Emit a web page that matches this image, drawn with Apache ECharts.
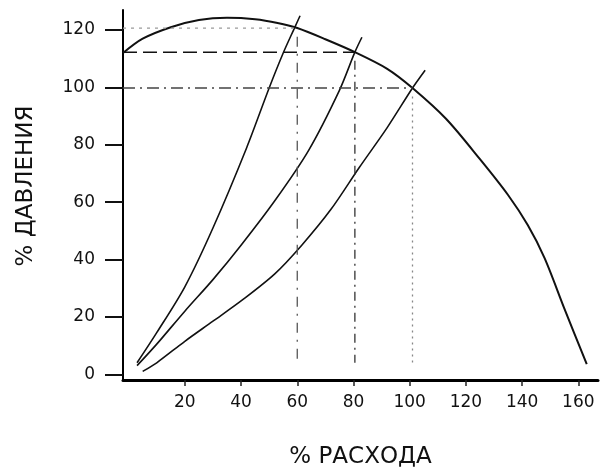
<!DOCTYPE html>
<html>
<head>
<meta charset="utf-8">
<script src="https://cdn.jsdelivr.net/npm/echarts@6/dist/echarts.min.js"></script>
<style>
  html, body { margin: 0; padding: 0; background: #fff; }
  #chart { width: 602px; height: 467px; }
</style>
</head>
<body>
<div id="chart"></div>
<script>
// характеристика насоса (% расхода -> % давления)
const pumpFlow = [-2, 5, 15, 25, 35, 45, 53, 60, 70, 80.5, 92, 101, 113, 125, 135, 142, 148, 155, 163]
const pumpHead = [112, 117, 121, 123.5, 124.3, 123.8, 122.5, 120.7, 116.8, 112.3, 106.5, 99.8, 89, 75, 62.5, 52, 40.5, 23, 3.5]

// характеристики сети
const sys1Flow = [3, 10, 20, 30, 42, 50, 55, 59, 61]
const sys1Head = [4, 14.5, 30.5, 51, 79, 99.8, 112, 120.7, 125]
const sys2Flow = [3, 10, 20, 30, 40, 52, 64, 75, 80.5, 83]
const sys2Head = [3, 10.5, 22, 33, 45, 60.5, 78, 99, 112.3, 117.5]
const sys3Flow = [5, 10, 20, 30, 40.6, 52, 61.6, 72, 82, 92, 101, 105.5]
const sys3Head = [1, 4, 11.5, 18.5, 26, 35, 45, 57.5, 72, 86, 99.8, 106]

// рабочие точки
const refFlow = [60, 80.5, 101]
const refHead = [120.7, 112.3, 99.8]

const xTicks = [20, 40, 60, 80, 100, 120, 140, 160]
const yTicks = [0, 20, 40, 60, 80, 100, 120]

const X_MIN = -2
const zip = (a, b) => a.map((v, i) => [v, b[i]])

const curve = (data, width) => ({
  type: 'line',
  data: data,
  symbol: 'none',
  smooth: 0.3,
  silent: true,
  lineStyle: { color: '#111', width: width }
})

const refLine = (data, color, dash, width) => ({
  type: 'line',
  data: data,
  symbol: 'none',
  silent: true,
  lineStyle: { color: color, width: width || 1.2, type: dash }
})

const hStyles = [['#9a9a9a', [3, 5], 1.2], ['#111', [14, 6], 1.5], ['#444', [12, 5, 2, 5], 1.3]]
const vStyles = [['#555', [10, 7, 2, 7], 1.3], ['#333', [9, 5, 2, 5], 1.3], ['#888', [2, 4], 1.3]]

const refSeries = []
refFlow.forEach((f, i) => {
  refSeries.push(refLine([[X_MIN, refHead[i]], [f, refHead[i]]], hStyles[i][0], hStyles[i][1], hStyles[i][2]))
  refSeries.push(refLine([[f, refHead[i] - 3], [f, 4]], vStyles[i][0], vStyles[i][1], vStyles[i][2]))
})

const chart = echarts.init(document.getElementById('chart'))

const labelFont = {
  color: '#111',
  fontSize: 17,
  fontFamily: 'DejaVu Sans'
}

chart.setOption({
  animation: false,
  backgroundColor: '#fff',
  grid: { left: 123, right: 4, top: 10, bottom: 87, containLabel: false, outerBoundsMode: 'none' },
  xAxis: {
    type: 'value',
    min: X_MIN,
    max: 167,
    name: '% РАСХОДА',
    nameLocation: 'middle',
    nameGap: 66,
    nameTextStyle: { color: '#111', fontSize: 23, fontFamily: 'DejaVu Sans' },
    axisLine: { show: true, onZero: false, lineStyle: { color: '#000', width: 3 } },
    axisTick: { show: true, length: 6, customValues: xTicks, lineStyle: { color: '#222', width: 1.5 } },
    axisLabel: Object.assign({ margin: 14, customValues: xTicks }, labelFont),
    splitLine: { show: false }
  },
  yAxis: {
    type: 'value',
    min: -2,
    max: 127,
    name: '% ДАВЛЕНИЯ',
    nameLocation: 'middle',
    nameGap: 85,
    nameTextStyle: { color: '#111', fontSize: 23, fontFamily: 'DejaVu Sans', padding: [0, 0, 0, 18] },
    axisLine: { show: true, onZero: false, lineStyle: { color: '#000', width: 2 } },
    axisTick: { show: true, length: 18, customValues: yTicks, lineStyle: { color: '#111', width: 2 } },
    axisLabel: Object.assign({ margin: 28, customValues: yTicks }, labelFont),
    splitLine: { show: false }
  },
  series: [
    curve(zip(pumpFlow, pumpHead), 2),
    curve(zip(sys1Flow, sys1Head), 1.6),
    curve(zip(sys2Flow, sys2Head), 1.6),
    curve(zip(sys3Flow, sys3Head), 1.6)
  ].concat(refSeries)
})
</script>
</body>
</html>
